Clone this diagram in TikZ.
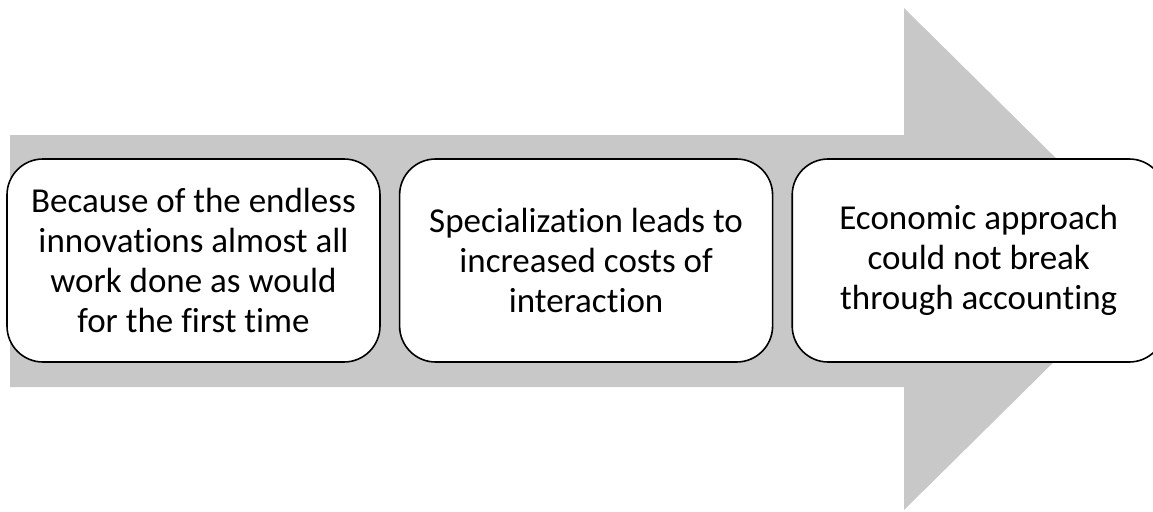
\documentclass[tikz,border=0pt]{standalone}
\usepackage{fontspec}
\setmainfont{Carlito}[Ligatures=NoCommon]
\usetikzlibrary{positioning}
\definecolor{arrowgray}{RGB}{200,200,200}
\begin{document}
\begin{tikzpicture}[x=1pt,y=-1pt,
    stage/.style={draw=black, line width=1.6pt, fill=white, rounded corners=36pt,
        minimum width=373pt, minimum height=203pt, inner sep=0pt,
        align=center, font=\fontsize{35}{40}\selectfont}]
    \useasboundingbox (0,0) rectangle (1153,511);
    % big arrow behind the stages
    \fill[arrowgray] (10,135) -- (904,135) -- (904,8) -- (1158,259)
        -- (904,510) -- (904,387) -- (10,387) -- cycle;
    \node[stage] (first) at (193.5,260.5) {Because of the endless\\innovations almost all\\work done as would\\for the first time};
    \node[stage, right=18pt of first] (second) {Specialization leads to\\increased costs of\\interaction};
    \node[stage, right=18pt of second] (third) {Economic approach\\could not break\\through accounting};
\end{tikzpicture}
\end{document}
